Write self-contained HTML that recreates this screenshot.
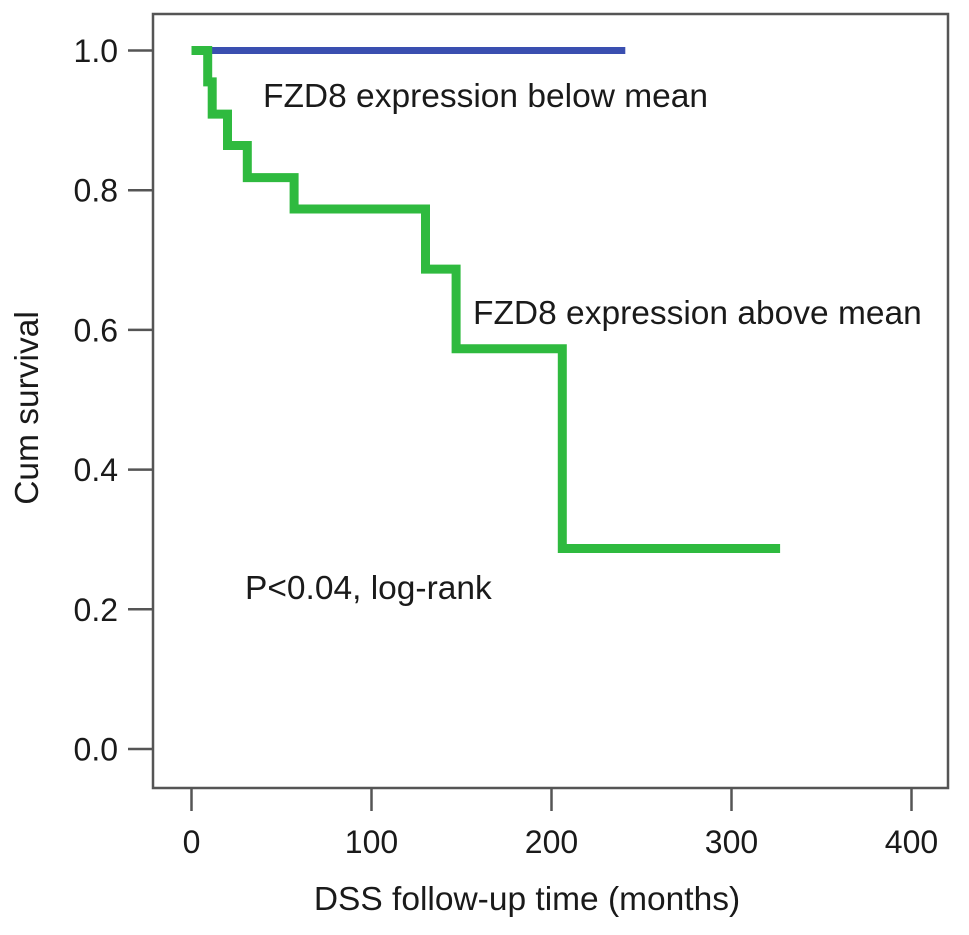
<!DOCTYPE html>
<html><head><meta charset="utf-8"><style>
html,body{margin:0;padding:0;background:#fff;}
svg text{font-family:"Liberation Sans",Arial,sans-serif;fill:#1a1a1a;}
</style></head><body>
<svg id="chart" width="969" height="930" viewBox="0 0 969 930" xmlns="http://www.w3.org/2000/svg">
<rect x="153" y="14" width="795" height="774" fill="#fff" stroke="#555" stroke-width="2.5"/>
<g id="axes"></g>
<g id="series"></g>
<text x="263" y="107" font-size="33.5">FZD8 expression below mean</text>
<text x="473" y="324" font-size="33.5">FZD8 expression above mean</text>
<text x="245" y="599" font-size="33.5">P&lt;0.04, log-rank</text>
<text x="527" y="910" font-size="33.5" text-anchor="middle">DSS follow-up time (months)</text>
<text x="38" y="408" font-size="33.5" text-anchor="middle" transform="rotate(-90 38 408)">Cum survival</text>
</svg>
<script>
const xTicks = [0, 100, 200, 300, 400];
const yTicks = [0.0, 0.2, 0.4, 0.6, 0.8, 1.0];
const yTickLabels = ["0.0", "0.2", "0.4", "0.6", "0.8", "1.0"];
const aboveTimes = [0, 9, 11.5, 20, 31, 57, 130, 147, 206, 327];
const aboveSurv = [1.0, 0.955, 0.909, 0.864, 0.818, 0.773, 0.687, 0.573, 0.287, 0.287];
const belowTimes = [0, 241];
const belowSurv = [1.0, 1.0];

const NS = "http://www.w3.org/2000/svg";
function xs(t){ return 191.5 + t * 1.8; }
function ys(v){ return 749 - v * 698.5; }
const axes = document.getElementById('axes');
const series = document.getElementById('series');
function mk(tag, attrs, parent){
  const e = document.createElementNS(NS, tag);
  for (const k in attrs) e.setAttribute(k, attrs[k]);
  parent.appendChild(e);
  return e;
}
xTicks.forEach(t => {
  const l = mk('line', {x1: xs(t), x2: xs(t), y1: 788, y2: 811, stroke: '#555', 'stroke-width': 2.5}, axes);
  
  
  const tx = mk('text', {x: xs(t), y: 853, 'font-size': 32, 'text-anchor': 'middle'}, axes);
  
  
  tx.textContent = String(t);
});
yTicks.forEach((v, i) => {
  const l = mk('line', {x1: 128, x2: 153, y1: ys(v), y2: ys(v), stroke: '#555', 'stroke-width': 2.5}, axes);
  
  
  const tx = mk('text', {x: 118, y: ys(v) + 11.5, 'font-size': 32, 'text-anchor': 'end'}, axes);
  
  
  tx.textContent = yTickLabels[i];
});
function stepPath(ts, ss){
  let d = 'M' + xs(ts[0]) + ',' + ys(ss[0]);
  for (let i = 1; i < ts.length; i++){
    d += ' L' + xs(ts[i]) + ',' + ys(ss[i-1]) + ' L' + xs(ts[i]) + ',' + ys(ss[i]);
  }
  return d;
}
const pb = mk('path', {d: stepPath(belowTimes, belowSurv), fill: 'none', stroke: '#3a4fb0', 'stroke-width': 7}, series);


const pa = mk('path', {d: stepPath(aboveTimes, aboveSurv), fill: 'none', stroke: '#2fba3f', 'stroke-width': 9, 'stroke-linejoin': 'miter'}, series);


</script>
</body></html>
